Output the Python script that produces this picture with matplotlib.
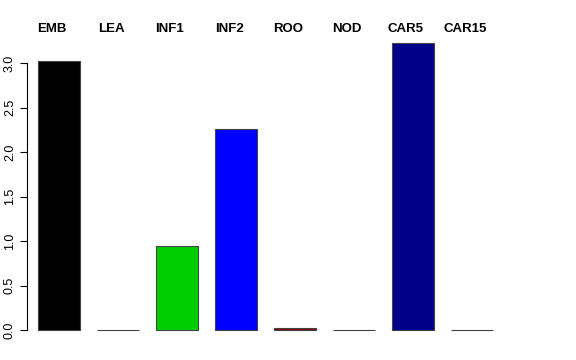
import matplotlib
matplotlib.use("Agg")
import matplotlib.pyplot as plt
import numpy as np

plt.rcParams['font.family'] = ['Liberation Sans', 'DejaVu Sans']

# data
categories = ['EMB', 'LEA', 'INF1', 'INF2', 'ROO', 'NOD', 'CAR5', 'CAR15']
values = [3.02, 0.0, 0.94, 2.26, 0.02, 0.0, 3.23, 0.0]
colors = ['#000000', '#FF0000', '#00CD00', '#0000FF', '#8B0000', '#FF00FF', '#00008B', '#00FFFF']
yticks = [0.0, 0.5, 1.0, 1.5, 2.0, 2.5, 3.0]

fig = plt.figure(figsize=(5.76, 3.6), dpi=100)
ax = fig.add_axes([27 / 576, 30 / 360, (520 - 27) / 576, (330 - 40) / 360])

x = np.arange(len(categories))
bars = ax.bar(x, values, width=0.71, color=colors, edgecolor='#444444', linewidth=0.8)
for b in bars:
    b.set_clip_on(False)

ax.set_xlim((27 - 59) / 59, (520 - 59) / 59)
ax.set_ylim(0, (330 - 40) / 89)

for s in ['top', 'right', 'bottom']:
    ax.spines[s].set_visible(False)
ax.spines['left'].set_bounds(0, 3.0)
ax.spines['left'].set_linewidth(0.8)
ax.set_xticks([])
ax.set_yticks(yticks)
ax.set_yticklabels([f'{t:.1f}' for t in yticks], rotation=90, va='center', fontsize=9)
ax.tick_params(axis='y', length=5, width=0.8, pad=3)

# group labels above the plot (sit a little left of the bar centres)
for xi, name in zip(x, categories):
    ax.text(xi - 7 / 59, (330 - 29.5) / 89, name, ha='center', va='center',
            fontsize=9.5, fontweight='bold')

fig.savefig('out.png', dpi=100)
